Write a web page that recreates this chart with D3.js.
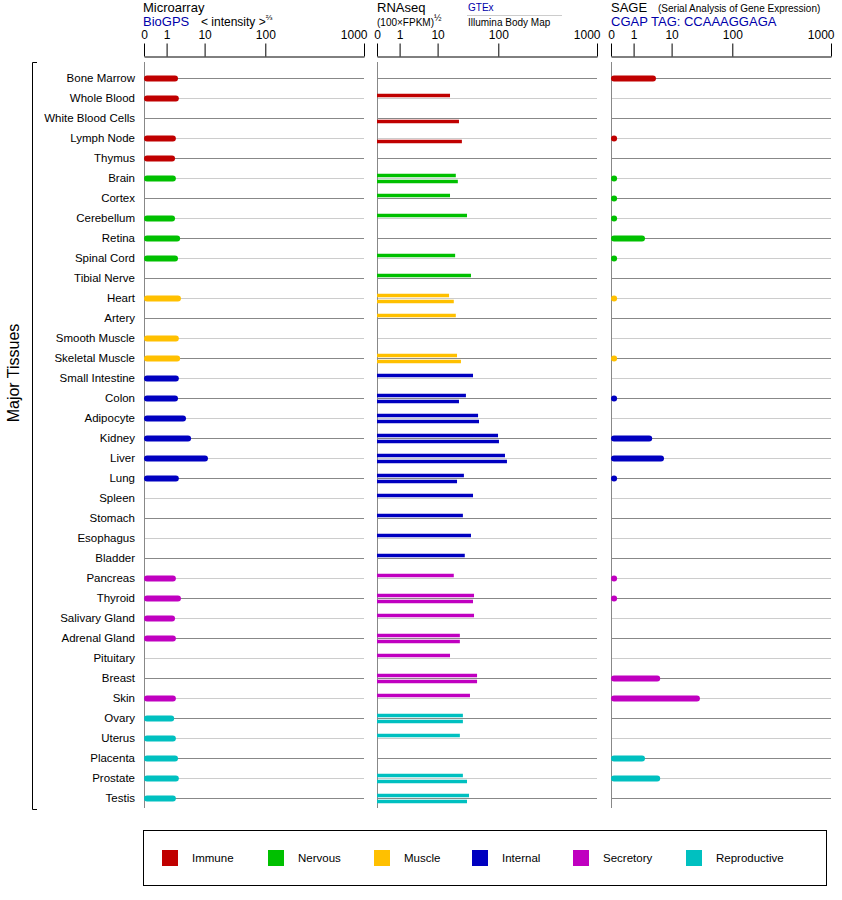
<!DOCTYPE html>
<html><head><meta charset="utf-8">
<script src="https://cdn.jsdelivr.net/npm/d3@7"></script>
<style>body{margin:0;background:#fff}text{font-family:"Liberation Sans",Arial,sans-serif}</style>
</head><body><svg id="c" width="842" height="900"></svg>
<script>
const tissues=["Bone Marrow","Whole Blood","White Blood Cells","Lymph Node","Thymus","Brain","Cortex","Cerebellum","Retina","Spinal Cord","Tibial Nerve","Heart","Artery","Smooth Muscle","Skeletal Muscle","Small Intestine","Colon","Adipocyte","Kidney","Liver","Lung","Spleen","Stomach","Esophagus","Bladder","Pancreas","Thyroid","Salivary Gland","Adrenal Gland","Pituitary","Breast","Skin","Ovary","Uterus","Placenta","Prostate","Testis"];
const groupOf=[0,0,0,0,0,1,1,1,1,1,1,2,2,2,2,3,3,3,3,3,3,3,3,3,3,4,4,4,4,4,4,4,5,5,5,5,5];
const groups=["Immune","Nervous","Muscle","Internal","Secretory","Reproductive"];
const colors=["#c00000","#00c000","#ffc000","#0000c0","#c000c0","#00c0c0"];
const microarray=[3.7,3.9,null,3.2,3.0,3.2,null,3.0,4.2,3.7,null,4.4,null,3.9,4.2,3.9,3.7,5.6,6.8,15,3.9,null,null,null,null,3.2,4.4,3.0,3.2,null,null,3.2,2.8,3.2,3.7,3.9,3.2];
const gtex=[null,28.4,null,null,null,37,28.4,53.6,null,36,59.5,27,37,null,38.8,62.5,52,70,99.6,161,49,62.5,47.5,59.5,50.3,34,64,64,43,28.4,68.5,58,47.5,43,null,47.5,56.6];
const ibm=[null,null,41.7,46,null,40,null,null,null,null,null,34,null,null,44.6,null,41.7,71.4,106,179,38.8,null,null,null,null,null,62.5,null,43,null,68.5,null,47.5,null,null,53.6,53.6];
const sage=[6.3,null,null,0.05,null,0.05,0.05,0.05,3.7,0.05,null,0.05,null,null,0.05,null,0.05,null,5.4,8.2,0.05,null,null,null,null,0.05,0.05,null,null,null,7.3,52,null,null,3.7,7.3,null];
const tickVals=[0,1,10,100,1000];

const svg=d3.select("#c");
const y=d3.scaleBand().domain(tissues).range([68,808]);
const yc=t=>y(t)+y.bandwidth()/2;
const panels=[144,377,611];
const mk=x0=>d3.scaleLinear().domain(tickVals).range([0,22.6,60.6,121.3,220].map(v=>x0+v));
const xs=panels.map(mk);

// headers
function t(x,yy,s,o={}){const e=svg.append("text").attr("x",x).attr("y",yy).text(s).attr("font-size",o.fs||13).attr("fill",o.fill||"#000");if(o.anchor)e.attr("text-anchor",o.anchor);return e;}
t(143,12,"Microarray");t(143,26,"BioGPS",{fill:"#0000aa"});
const it=t(201,26,"< intensity >",{fs:12});
it.append("tspan").attr("dy",-6).attr("font-size",8).text("⅔");
t(377,12,"RNAseq");
const fp=t(377,26,"(100×FPKM)",{fs:10});fp.append("tspan").attr("dy",-5).attr("font-size",9).text("½");
t(468,11,"GTEx",{fs:10,fill:"#0000aa"});
svg.append("line").attr("x1",467).attr("x2",562).attr("y1",15.5).attr("y2",15.5).attr("stroke","#ccc");
t(468,26,"Illumina Body Map",{fs:10});
t(611,12,"SAGE");t(658,12,"(Serial Analysis of Gene Expression)",{fs:10});
t(611,26,"CGAP TAG: CCAAAGGAGA",{fill:"#0000aa"});

// axes
xs.forEach((x,pi)=>{
  const g=svg.append("g").attr("transform","translate(0,56.5)");
  g.call(d3.axisTop(x).tickValues(tickVals).tickSize(13).tickSizeOuter(0).tickFormat(d3.format("d")));
  g.select(".domain").attr("stroke","#000");
  g.selectAll(".tick line").attr("stroke","#000");
  g.selectAll(".tick text").attr("font-size",12).attr("font-family","Liberation Sans,Arial").attr("dy","-0.1em")
   .attr("text-anchor",d=>d===1000?"end":"middle").attr("dx",d=>d===1000?3:0);
  // grid lines
  svg.append("g").selectAll("line").data(tissues).join("line")
    .attr("x1",x(0)).attr("x2",x(1000)).attr("y1",d=>yc(d)+0.5).attr("y2",d=>yc(d)+0.5)
    .attr("stroke",(d,i)=>i%2?"#cccccc":"#888888");
  svg.append("line").attr("x1",x(0)+0.5).attr("x2",x(0)+0.5).attr("y1",62).attr("y2",808).attr("stroke","#888");
});

// row labels
svg.append("g").selectAll("text").data(tissues).join("text")
  .attr("x",135).attr("y",d=>yc(d)+4).attr("text-anchor","end").attr("font-size",11.5).text(d=>d);

// bracket
svg.append("path").attr("d","M37,62.5H32.5V809.5H37").attr("fill","none").attr("stroke","#000");
svg.append("text").attr("transform","translate(19,373) rotate(-90)").attr("text-anchor","middle").attr("font-size",16).text("Major Tissues");

function bars(vals,x,dy,w,cap){
  svg.append("g").selectAll("line").data(vals.map((v,i)=>({v,i})).filter(d=>d.v!=null)).join("line")
    .attr("x1",x(0)+(cap?3:0)).attr("x2",d=>Math.max(x(d.v)-(cap?3:0),x(0)+(cap?3:0)+0.1))
    .attr("y1",d=>yc(tissues[d.i])+dy).attr("y2",d=>yc(tissues[d.i])+dy)
    .attr("stroke",d=>colors[groupOf[d.i]]).attr("stroke-width",w).attr("stroke-linecap",cap?"round":"butt");
}
bars(microarray,xs[0],0.5,6,true);
bars(gtex,xs[1],-2.5,3.5,false);
bars(ibm,xs[1],3.5,3.5,false);
bars(sage,xs[2],0.5,6,true);

// legend
svg.append("rect").attr("x",143.5).attr("y",830.5).attr("width",683).attr("height",55).attr("fill","none").attr("stroke","#000");
const lx=[162,268,374,472,573,686];
const lg=svg.append("g").selectAll("g").data(groups).join("g").attr("transform",(d,i)=>`translate(${lx[i]},850)`);
lg.append("rect").attr("width",16).attr("height",16).attr("fill",(d,i)=>colors[i]);
lg.append("text").attr("x",30).attr("y",12).attr("font-size",11.5).text(d=>d);
</script></body></html>
